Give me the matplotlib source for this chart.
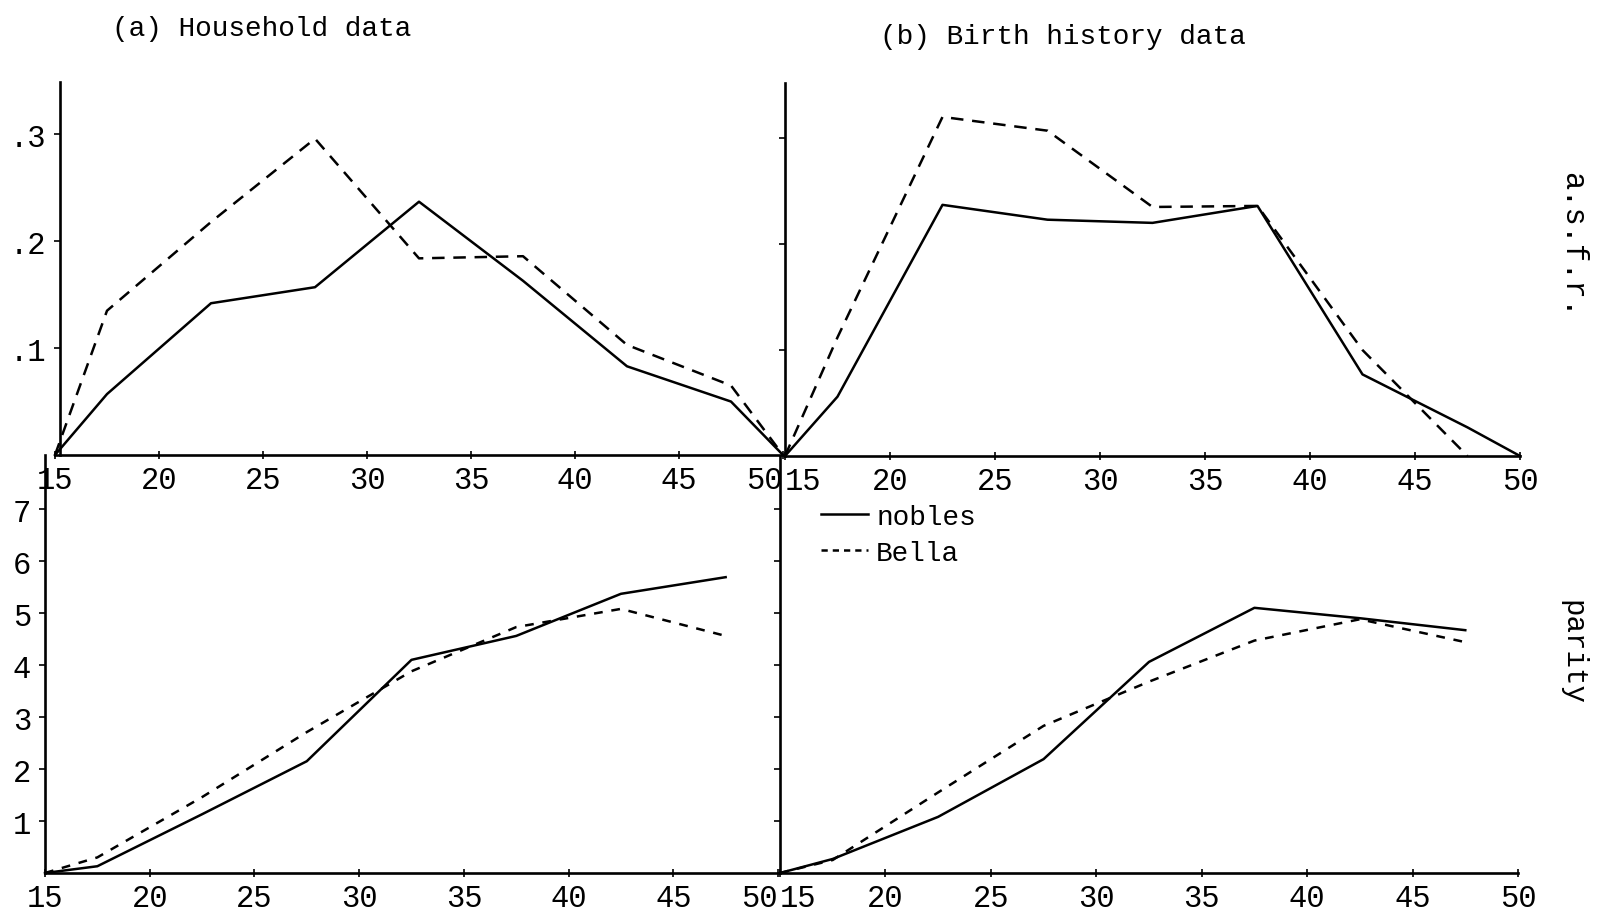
import matplotlib
matplotlib.use("Agg")
import matplotlib.pyplot as plt
from matplotlib.lines import Line2D

plt.rcParams['font.family'] = ['Liberation Mono', 'DejaVu Sans Mono']

# ---------------------------------------------------------------
# data
# ---------------------------------------------------------------
ages = [15, 17.5, 22.5, 27.5, 32.5, 37.5, 42.5, 47.5, 50]
ages_parity = [15, 17.5, 22.5, 27.5, 32.5, 37.5, 42.5, 47.5]

# (a) household data, age-specific fertility rates
hh_asfr_nobles = [0, 0.057, 0.142, 0.157, 0.237, 0.163, 0.083, 0.050, 0]
hh_asfr_bella = [0, 0.135, 0.218, 0.296, 0.184, 0.186, 0.103, 0.065, 0]

# (b) birth history data, age-specific fertility rates
bh_asfr_nobles = [0, 0.056, 0.237, 0.223, 0.220, 0.236, 0.077, 0.027, 0]
bh_asfr_bella = [0, 0.112, 0.320, 0.307, 0.235, 0.236, 0.100, 0]

# parity
hh_parity_nobles = [0, 0.13, 1.13, 2.15, 4.10, 4.56, 5.37, 5.69]
hh_parity_bella = [0, 0.30, 1.46, 2.71, 3.88, 4.73, 5.08, 4.56]
bh_parity_nobles = [0, 0.27, 1.08, 2.19, 4.06, 5.10, 4.90, 4.67]
bh_parity_bella = [0, 0.25, 1.55, 2.83, 3.68, 4.47, 4.88, 4.44]

x_ticks = [15, 20, 25, 30, 35, 40, 45, 50]
x_ticklabels = ['15', '20', '25', '30', '35', '40', '45', '50']
asfr_ticks = [0.1, 0.2, 0.3]
asfr_ticklabels = ['.1', '.2', '.3']
parity_ticks = [1, 2, 3, 4, 5, 6, 7]
parity_ticklabels = ['1', '2', '3', '4', '5', '6', '7']

W, H = 1600, 920
fig = plt.figure(figsize=(W / 100, H / 100), dpi=100)


def panel(left, right, bottom, top):
    # axes placed by pixel edges of the scanned page
    ax = fig.add_axes([left / W, (H - bottom) / H, (right - left) / W, (bottom - top) / H])
    ax.patch.set_visible(False)
    for s in ('top', 'right'):
        ax.spines[s].set_visible(False)
    for s in ('left', 'bottom'):
        ax.spines[s].set_linewidth(1.9)
    ax.set_xlim(15, 50)
    ax.set_xticks(x_ticks)
    ax.set_xticklabels(x_ticklabels)
    ax.tick_params(axis='x', direction='inout', length=6, width=1.2, pad=4, labelsize=22)
    ax.tick_params(axis='y', direction='out', length=4, width=1.2, pad=6, labelsize=22)
    return ax


ax_tl = panel(55, 783, 456, 83)
ax_tr = panel(785, 1520, 457, 84)
ax_bl = panel(45, 778, 874, 456)
ax_br = panel(780, 1518, 874, 457)

ax_tl.set_ylim(0, 0.349)
ax_tr.set_ylim(0, 0.352)
ax_bl.set_ylim(0, 8.04)
ax_br.set_ylim(0, 8.02)

# the typed y axis of panel (a) stands a little right of age 15
ax_tl.spines['left'].set_position(('data', 15.25))

for ax in (ax_tl, ax_tr):
    ax.set_yticks(asfr_ticks)
for ax in (ax_bl, ax_br):
    ax.set_yticks(parity_ticks)
ax_tl.set_yticklabels(asfr_ticklabels)
ax_bl.set_yticklabels(parity_ticklabels)
ax_tr.set_yticklabels([])
ax_br.set_yticklabels([])

# the "50" of the left panels and "15" of the right ones sit either side of the divider
for ax in (ax_tl, ax_bl):
    ax.get_xticklabels()[-1].set_ha('right')
for ax in (ax_tr, ax_br):
    ax.get_xticklabels()[0].set_ha('left')

lw = 1.8
dash_top = (5, 3.5)
dash_bot = (3.5, 3.5)

ax_tl.plot(ages, hh_asfr_nobles, color='black', lw=lw)
ax_tl.plot(ages, hh_asfr_bella, color='black', lw=lw, dashes=dash_top)
ax_tr.plot(ages, bh_asfr_nobles, color='black', lw=lw)
ax_tr.plot(ages[:len(bh_asfr_bella)], bh_asfr_bella, color='black', lw=lw, dashes=dash_top)

ax_bl.plot(ages_parity, hh_parity_nobles, color='black', lw=lw)
ax_bl.plot(ages_parity, hh_parity_bella, color='black', lw=lw, dashes=dash_bot)
ax_br.plot(ages_parity, bh_parity_nobles, color='black', lw=lw)
ax_br.plot(ages_parity, bh_parity_bella, color='black', lw=lw, dashes=dash_bot)

for ax in (ax_tl, ax_tr, ax_bl, ax_br):
    for ln in ax.lines:
        ln.set_clip_on(False)

# legend
handles = [Line2D([], [], color='black', lw=lw),
           Line2D([], [], color='black', lw=lw, dashes=(2.5, 2))]
ax_br.legend(handles, ['nobles', 'Bella'], loc='upper left', bbox_to_anchor=(0.055, 0.885),
             frameon=False, fontsize=20, handlelength=1.7, handletextpad=0.3,
             borderaxespad=0, borderpad=0, labelspacing=0.35)

# titles and side labels
fig.text(112 / W, 1 - 29 / H, '(a) Household data', fontsize=20, ha='left', va='center')
fig.text(880 / W, 1 - 37 / H, '(b) Birth history data', fontsize=20, ha='left', va='center')
fig.text(1572 / W, 1 - 245 / H, 'a.s.f.r.', fontsize=22, rotation=270, ha='center', va='center')
fig.text(1572 / W, 1 - 653 / H, 'parity', fontsize=21, rotation=270, ha='center', va='center')

fig.savefig('out.png', dpi=100, facecolor='white')
